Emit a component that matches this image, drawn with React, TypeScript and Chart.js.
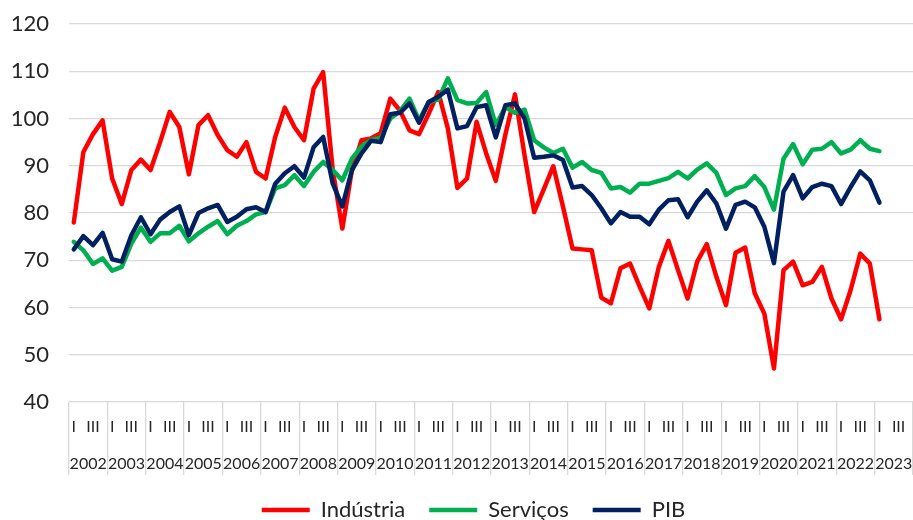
import React, { useEffect, useRef } from "react";
import { Chart, registerables } from "chart.js";

Chart.register(...registerables);

const yearLabels = [
  "2002", "2003", "2004", "2005", "2006", "2007", "2008", "2009", "2010", "2011", "2012",
  "2013", "2014", "2015", "2016", "2017", "2018", "2019", "2020", "2021", "2022", "2023",
];
const quarterNames = ["I", "II", "III", "IV"];
const quarterMarks = ["I", "", "III", ""];

const industria = [
  78.0, 92.9, 96.7, 99.6, 87.3, 81.9, 89.1, 91.3, 89.1, 95.0, 101.4, 98.2, 88.2, 98.6, 100.7,
  96.5, 93.3, 91.9, 95.0, 88.7, 87.3, 96.1, 102.3, 98.2, 95.4, 106.3, 109.8, 89.1, 76.7,
  89.1, 95.4, 95.8, 96.9, 104.2, 101.7, 97.5, 96.7, 101.0, 105.6, 97.9, 85.3, 87.3, 99.3, 92.6,
  86.8, 96.6, 105.1, 92.2, 80.2, 85.0, 89.9, 81.4, 72.5, 72.3, 72.1, 62.1, 60.9, 68.3, 69.3,
  64.4, 59.8, 68.6, 74.1, 67.9, 61.9, 69.7, 73.4, 66.5, 60.5, 71.6, 72.7, 63.0, 58.7,
  47.1, 67.9, 69.7, 64.7, 65.4, 68.6, 61.9, 57.5, 63.7, 71.4, 69.3, 57.5,
];

const servicos = [
  73.9, 72.1, 69.2, 70.4, 67.8, 68.6, 73.5, 76.9, 73.9, 75.7, 75.7, 77.3, 74.0, 75.7, 77.1,
  78.3, 75.5, 77.3, 78.3, 79.7, 80.2, 85.2, 85.9, 88.0, 85.7, 88.7, 90.8, 89.1, 86.9, 91.5,
  94.1, 95.5, 95.8, 100.0, 101.5, 104.2, 99.6, 103.5, 104.0, 108.5, 103.9, 103.2, 103.3, 105.6,
  98.6, 102.4, 101.2, 101.9, 95.4, 93.9, 92.7, 93.6, 89.6, 90.8, 89.1, 88.5, 85.2, 85.5, 84.3,
  86.2, 86.2, 86.8, 87.4, 88.7, 87.3, 89.2, 90.5, 88.5, 83.8, 85.2, 85.7, 87.8, 85.5,
  80.7, 91.5, 94.6, 90.3, 93.4, 93.6, 95.0, 92.6, 93.4, 95.4, 93.6, 93.1,
];

const pib = [
  72.3, 75.1, 73.2, 75.8, 70.2, 69.7, 75.3, 79.1, 75.5, 78.6, 80.2, 81.4, 75.3, 80.0, 81.0,
  81.7, 78.1, 79.2, 80.8, 81.2, 80.2, 86.2, 88.4, 89.9, 87.5, 93.9, 96.1, 86.2, 81.4,
  89.1, 92.6, 95.3, 95.0, 100.9, 101.2, 103.2, 99.1, 103.5, 104.6, 106.1, 97.9, 98.4, 102.4, 102.8,
  96.0, 102.8, 103.2, 100.0, 91.7, 91.9, 92.2, 91.2, 85.4, 85.7, 83.8, 81.0, 77.8, 80.2, 79.2,
  79.2, 77.6, 80.7, 82.7, 82.9, 79.1, 82.4, 84.8, 82.0, 76.7, 81.7, 82.4, 81.2, 77.1,
  69.4, 84.5, 88.0, 83.1, 85.5, 86.2, 85.7, 81.9, 85.5, 88.8, 86.9, 82.2,
];

const quarterLabels: string[] = [];
yearLabels.forEach((y) => {
  quarterNames.forEach((q) => quarterLabels.push(y + " " + q));
});

const RED = "#ff0000";
const GREEN = "#00b050";
const NAVY = "#002060";
const GRID = "#d9d9d9";
const TEXT = "#262626";
const FONT = "Lato, 'Open Sans', sans-serif";

const legendShift = {
  id: "legendShift",
  afterLayout(chart: any) {
    if (chart.legend) {
      chart.legend.left += 34;
    }
  },
};

export default function App() {
  const ref = useRef<HTMLCanvasElement>(null);

  useEffect(() => {
    if (!ref.current) return;
    const mk = (label: string, data: number[], color: string, order: number) => ({
      label,
      data,
      borderColor: color,
      backgroundColor: color,
      borderWidth: 4.5,
      pointRadius: 0,
      pointHoverRadius: 0,
      pointBorderWidth: 4.5,
      pointBorderColor: color,
      borderJoinStyle: "round" as const,
      borderCapStyle: "round" as const,
      tension: 0,
      order,
    });
    const chart = new Chart(ref.current, {
      type: "line",
      data: {
        labels: quarterLabels,
        datasets: [
          mk("Indústria", industria, RED, 2),
          mk("Serviços", servicos, GREEN, 1),
          mk("PIB", pib, NAVY, 0),
        ],
      },
      plugins: [legendShift],
      options: {
        responsive: false,
        animation: false,
        devicePixelRatio: 1,
        layout: { padding: { top: 24, left: 0, right: 0, bottom: 0 } },
        plugins: {
          tooltip: { enabled: false },
          legend: {
            position: "bottom",
            maxHeight: 45,
            labels: {
              usePointStyle: true,
              pointStyle: "line",
              pointStyleWidth: 48,
              padding: 24,
              color: TEXT,
              font: { family: FONT, size: 22 },
              sort: (a: any, b: any) => a.datasetIndex - b.datasetIndex,
            },
          },
        },
        scales: {
          x: {
            type: "category",
            position: "bottom",
            offset: true,
            weight: 0,
            border: { display: false },
            grid: {
              display: true,
              offset: true,
              drawOnChartArea: false,
              drawTicks: true,
              tickLength: 73,
              lineWidth: 1.3,
              color: (ctx: any) =>
                ctx.index === undefined || ctx.index % 4 === 0 ? GRID : "rgba(0,0,0,0)",
            },
            ticks: {
              autoSkip: false,
              maxRotation: 0,
              minRotation: 0,
              padding: -57.6,
              color: TEXT,
              font: { family: FONT, size: 16 },
              callback: (_v: any, i: number) => quarterMarks[i % 4],
            },
            afterFit: (s: any) => {
              s.height = 52;
            },
          },
          x2: {
            type: "category",
            axis: "x",
            position: "bottom",
            labels: yearLabels,
            offset: true,
            display: true,
            weight: 1,
            border: { display: false },
            grid: { display: false, drawTicks: false },
            ticks: {
              autoSkip: false,
              maxRotation: 0,
              minRotation: 0,
              padding: 0,
              color: TEXT,
              font: { family: FONT, size: 16 },
            },
            afterFit: (s: any) => {
              s.height = 21;
            },
          },
          y: {
            min: 40,
            max: 120,
            border: { display: false },
            grid: { color: GRID, lineWidth: 1.3, drawTicks: false },
            ticks: {
              stepSize: 10,
              padding: 20,
              color: TEXT,
              font: { family: FONT, size: 22 },
            },
            afterFit: (s: any) => {
              s.width = 69;
              s.paddingTop = 0;
              s.paddingBottom = 0;
            },
          },
        },
      },
    } as any);
    return () => chart.destroy();
  }, []);

  return (
    <div
      style={{
        position: "fixed",
        left: 0,
        top: 0,
        width: 913,
        height: 520,
        background: "#ffffff",
      }}
    >
      <canvas ref={ref} width={913} height={520} style={{ width: 913, height: 520 }} />
    </div>
  );
}
